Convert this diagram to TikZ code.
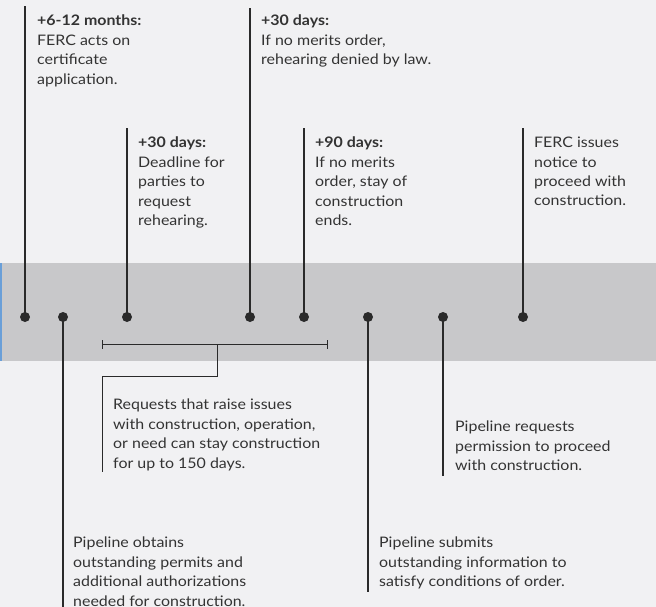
\documentclass[tikz,border=0pt]{standalone}
\usepackage{fontspec}
\setmainfont{Lato}[FakeStretch=1.1]
\definecolor{bgc}{HTML}{F1F1F3}
\definecolor{bandc}{HTML}{C8C8CA}
\definecolor{bluec}{HTML}{6A9FD8}
\definecolor{linec}{HTML}{2A2A2A}
\definecolor{txtc}{HTML}{333333}
\begin{document}
\begin{tikzpicture}[x=1pt,y=-1pt,
  conn/.style={draw=linec,line width=1.4pt},
  dotnode/.style={circle,fill=linec,inner sep=0pt,minimum size=10pt},
  lbl/.style={anchor=north west,inner sep=0pt,align=left,text=txtc,
    font=\fontsize{14.5}{19.4}\selectfont}]
\useasboundingbox (0,0) rectangle (656,607);
\fill[bgc] (0,0) rectangle (656,607);
\fill[bandc] (0,263) rectangle (656,361);
\fill[bluec] (0,263) rectangle (1.5,361);
% dots
\foreach \n/\x in {d1/25,d2/63,d3/127,d4/250,d5/304,d6/368,d7/443,d8/523}
  \node[dotnode] (\n) at (\x,317) {};
% line ends
\coordinate (t1) at (25,6);
\coordinate (b2) at (63,607);
\coordinate (t3) at (127,128);
\coordinate (t4) at (250,8);
\coordinate (t5) at (304,128);
\coordinate (b6) at (368,592);
\coordinate (b7) at (443,476);
\coordinate (t8) at (523,128);
\draw[conn] (d1.center) -- (t1);
\draw[conn] (d2.center) -- (b2);
\draw[conn] (d3.center) -- (t3);
\draw[conn] (d4.center) -- (t4);
\draw[conn] (d5.center) -- (t5);
\draw[conn] (d6.center) -- (b6);
\draw[conn] (d7.center) -- (b7);
\draw[conn] (d8.center) -- (t8);
% bracket
\coordinate (bl) at (102,344);
\coordinate (br) at (327,344);
\coordinate (bm) at (217,344);
\coordinate (bk) at (217,376);
\coordinate (bj) at (102,376);
\coordinate (be) at (102,472);
\draw[draw=linec,line width=1pt] (bl) -- (br);
\draw[draw=linec,line width=1pt] ([yshift=-4.5pt]bl) -- ([yshift=4.5pt]bl);
\draw[draw=linec,line width=1pt] ([yshift=-4.5pt]br) -- ([yshift=4.5pt]br);
\draw[draw=linec,line width=1pt] (bm) -- (bk) -- (bj) -- (be);
% labels
\node[lbl] (l1) at (37,15) {\textbf{+6-12 months:}\\FERC acts on\\certificate\\application.};
\node[lbl] (l4) at (261,15) {\textbf{+30 days:}\\If no merits order,\\rehearing denied by law.};
\node[lbl] (l3) at (138,137) {\textbf{+30 days:}\\Deadline for\\parties to\\request\\rehearing.};
\node[lbl] (l5) at (315,137) {\textbf{+90 days:}\\If no merits\\order, stay of\\construction\\ends.};
\node[lbl] (l8) at (534,137) {FERC issues\\notice to\\proceed with\\construction.};
\node[lbl] (lb) at (113,399) {Requests that raise issues\\with construction, operation,\\or need can stay construction\\for up to 150 days.};
\node[lbl] (l7) at (455,421) {Pipeline requests\\permission to proceed\\with construction.};
\node[lbl] (l2) at (73,537) {Pipeline obtains\\outstanding permits and\\additional authorizations\\needed for construction.};
\node[lbl] (l6) at (379,537) {Pipeline submits\\outstanding information to\\satisfy conditions of order.};
\end{tikzpicture}
\end{document}
